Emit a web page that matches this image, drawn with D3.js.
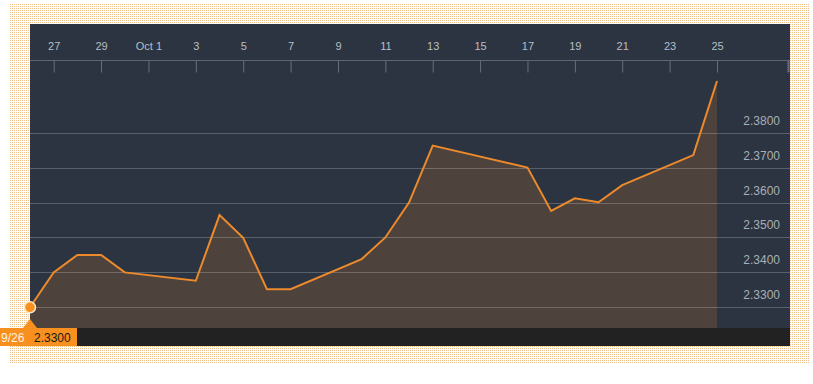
<!DOCTYPE html>
<html>
<head>
<meta charset="utf-8">
<script src="https://cdn.jsdelivr.net/npm/d3@7"></script>
<style>
  body { margin: 0; background: #fff; }
  svg { display: block; font-family: "Liberation Sans", Arial, sans-serif; }
</style>
</head>
<body>
<svg id="canvas" width="813" height="384"></svg>
<script>
// dates and closing values
let dates = ['2013-09-26','2013-09-27','2013-09-28','2013-09-29','2013-09-30',
             '2013-10-03','2013-10-04','2013-10-05','2013-10-06','2013-10-07',
             '2013-10-10','2013-10-11','2013-10-12','2013-10-13','2013-10-17',
             '2013-10-18','2013-10-19','2013-10-20','2013-10-21','2013-10-24','2013-10-25']
let values = [2.3300, 2.3400, 2.3450, 2.3450, 2.3400,
              2.3376, 2.3564, 2.3499, 2.3352, 2.3352,
              2.3438, 2.3500, 2.3600, 2.3763, 2.3700,
              2.3576, 2.3612, 2.3601, 2.3650, 2.3736, 2.3948]
let yTicks = [2.33, 2.34, 2.35, 2.36, 2.37, 2.38]
let xTickDates = ['2013-09-27','2013-09-29','2013-10-01','2013-10-03','2013-10-05','2013-10-07',
                  '2013-10-09','2013-10-11','2013-10-13','2013-10-15','2013-10-17','2013-10-19',
                  '2013-10-21','2013-10-23','2013-10-25']

let parse = d3.timeParse('%Y-%m-%d')
let data = dates.map((d, i) => ({date: parse(d), value: values[i]}))

let canvas = d3.select('#canvas')

// dotted frame
let defs = canvas.append('defs')
let pat = defs.append('pattern')
  .attr('id', 'dots').attr('width', 2).attr('height', 2)
  .attr('patternUnits', 'userSpaceOnUse')
pat.append('rect').attr('width', 2).attr('height', 2).attr('fill', '#fff')
pat.append('rect').attr('width', 1).attr('height', 1).attr('fill', '#efc088')

canvas.append('rect').attr('x', 10).attr('y', 4).attr('width', 800).attr('height', 360)
  .attr('fill', 'url(#dots)')

let pLeft = 30, pRight = 790, pTop = 24, pBottom = 346, plotBottom = 328

canvas.append('rect').attr('x', pLeft).attr('y', pTop)
  .attr('width', pRight - pLeft).attr('height', pBottom - pTop)
  .attr('fill', '#2b3440')

let x = d3.scaleTime()
  .domain([parse('2013-09-26'), parse('2013-10-25')])
  .range([30, 717])

let y = d3.scaleLinear()
  .domain([2.33, 2.38])
  .range([307.3, 132.7])

// area
let area = d3.area()
  .x(d => x(d.date))
  .y0(plotBottom)
  .y1(d => y(d.value))

canvas.append('path')
  .datum(data)
  .attr('d', area)
  .attr('fill', '#e8852a')
  .attr('fill-opacity', 0.18)

// gridlines
canvas.selectAll('.grid')
  .data(yTicks)
  .enter()
  .append('line')
  .attr('class', 'grid')
  .attr('x1', pLeft).attr('x2', pRight)
  .attr('y1', d => Math.round(y(d)) + 0.5)
  .attr('y2', d => Math.round(y(d)) + 0.5)
  .attr('stroke', '#fff')
  .attr('stroke-opacity', 0.22)

canvas.selectAll('.ylabel')
  .data(yTicks)
  .enter()
  .append('text')
  .attr('class', 'ylabel')
  .attr('x', 780)
  .attr('y', d => y(d) - 8)
  .attr('text-anchor', 'end')
  .attr('font-size', 12)
  .attr('fill', '#a9afb6')
  .text(d => d.toFixed(4))

// line
let line = d3.line()
  .x(d => x(d.date))
  .y(d => y(d.value))

canvas.append('path')
  .datum(data)
  .attr('d', line)
  .attr('fill', 'none')
  .attr('stroke', '#ec8a2c')
  .attr('stroke-width', 2)
  .attr('stroke-linejoin', 'miter')

// top axis
let fmt = (d) => d.getDate() === 1 ? d3.timeFormat('%b %-d')(d) : d3.timeFormat('%-d')(d)
let xAxis = d3.axisBottom(x)
  .tickValues(xTickDates.map(parse))
  .tickFormat(fmt)
  .tickSize(12)
  .tickPadding(-30)

let ax = canvas.append('g')
  .attr('transform', 'translate(0,60.5)')
  .call(xAxis)
ax.select('.domain').remove()
ax.append('line').attr('x1', pLeft).attr('x2', pRight)
  .attr('stroke', '#5b6571')
ax.selectAll('.tick line').attr('stroke', '#66707a')
ax.selectAll('.tick text')
  .attr('fill', '#b9bec4')
  .attr('font-size', 11)
  .attr('font-family', '"Liberation Sans", Arial, sans-serif')
ax.append('line').attr('x1', 788.5).attr('x2', 788.5).attr('y1', 0).attr('y2', 12)
  .attr('stroke', '#66707a').attr('stroke-width', 2)

// bottom strip
canvas.append('rect').attr('x', pLeft).attr('y', plotBottom)
  .attr('width', pRight - pLeft).attr('height', pBottom - plotBottom)
  .attr('fill', '#222222')

// first point marker and label
let first = data[0]
canvas.append('path')
  .attr('d', `M${x(first.date) - 7},${plotBottom} L${x(first.date)},${plotBottom - 9} L${x(first.date) + 7},${plotBottom} Z`)
  .attr('fill', '#f7901e')
canvas.append('rect').attr('x', 0).attr('y', plotBottom)
  .attr('width', 77).attr('height', pBottom - plotBottom)
  .attr('fill', '#f7901e')
canvas.append('text').attr('x', 1).attr('y', 342)
  .attr('font-size', 12).attr('fill', '#fff3e0')
  .text(d3.timeFormat('%-m/%-d')(first.date))
canvas.append('text').attr('x', 34).attr('y', 342)
  .attr('font-size', 12).attr('fill', '#1a1a1a')
  .text(first.value.toFixed(4))
canvas.append('circle')
  .attr('cx', x(first.date)).attr('cy', y(first.value))
  .attr('r', 5.5)
  .attr('fill', '#f7901e')
  .attr('stroke', '#fde8c8')
  .attr('stroke-width', 1.5)
</script>
</body>
</html>
